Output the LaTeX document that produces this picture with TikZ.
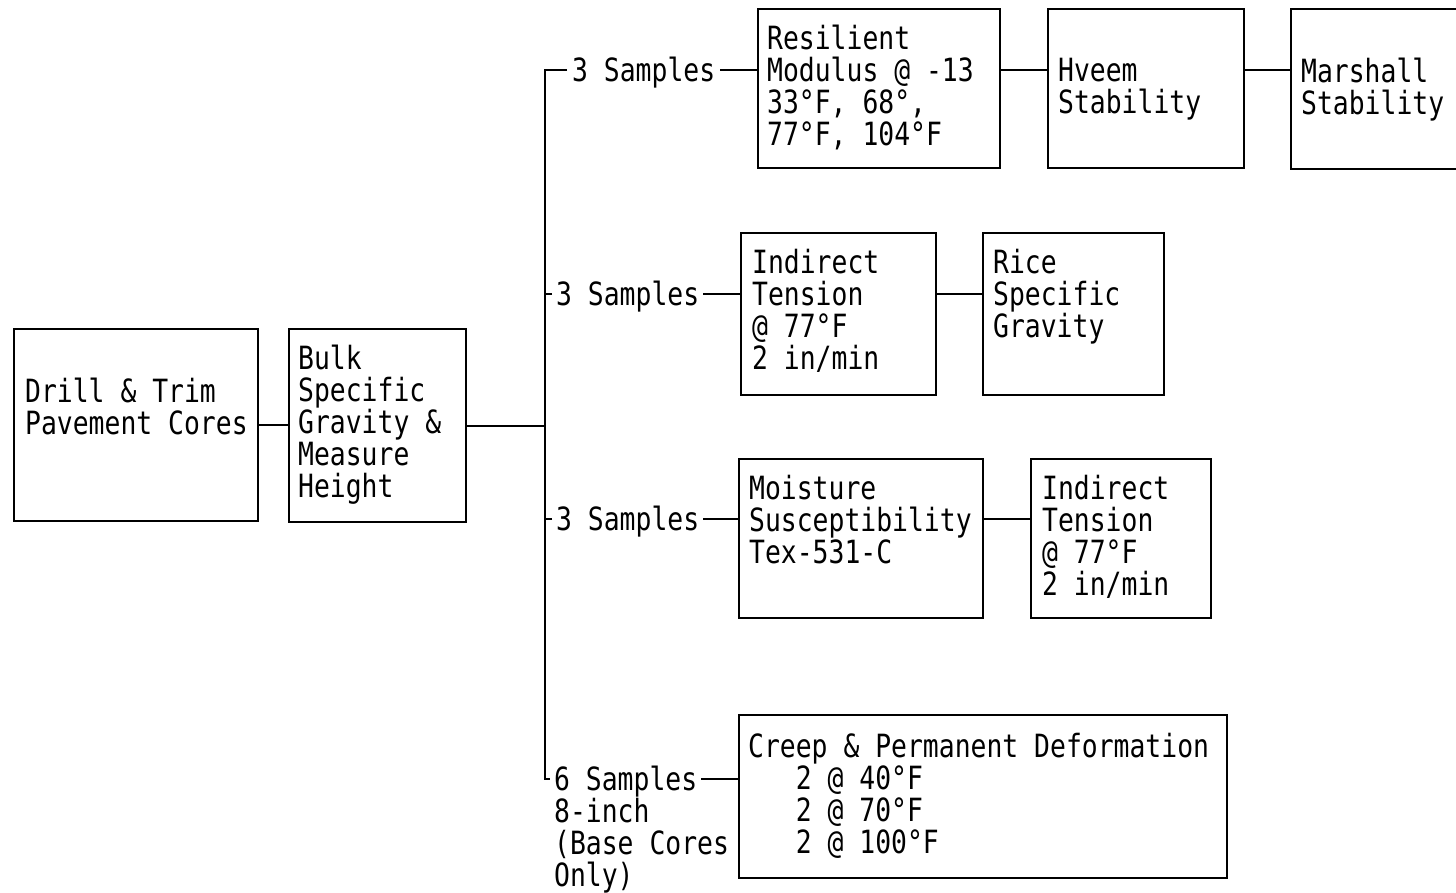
\documentclass[tikz,border=0pt]{standalone}
\usepackage{fontspec}
\newfontfamily\typefont{DejaVu Sans Mono}[FakeStretch=0.825]
\begin{document}
\begin{tikzpicture}[x=1pt, y=-1pt, line width=2.3pt,
  box/.style={draw, inner sep=0pt, anchor=north west},
  txt/.style={font={\typefont\fontsize{32}{32}\selectfont}, align=left, inner sep=0pt, anchor=north west},
  smp/.style={font={\typefont\fontsize{32}{32}\selectfont}, inner sep=0pt, text height=23pt, text depth=0pt, anchor=west}]
\useasboundingbox (0,0) rectangle (1456,892);
\fill[white] (0,0) rectangle (1456,892);

\node[box, minimum width=244, minimum height=192] (drill) at (13,328) {};
\node[box, minimum width=177, minimum height=193] (bulk) at (288,328) {};
\node[box, minimum width=242, minimum height=159] (res) at (757,8) {};
\node[box, minimum width=196, minimum height=159] (hveem) at (1047,8) {};
\node[box, minimum width=172, minimum height=160] (marsh) at (1290,8) {};
\node[box, minimum width=195, minimum height=162] (itA) at (740,232) {};
\node[box, minimum width=181, minimum height=162] (rice) at (982,232) {};
\node[box, minimum width=244, minimum height=159] (moist) at (738,458) {};
\node[box, minimum width=180, minimum height=159] (itB) at (1030,458) {};
\node[box, minimum width=488, minimum height=163] (creep) at (738,714) {};

\node[txt] (drillT) at (24,377) {Drill \& Trim\\Pavement Cores};
\node[txt] (bulkT) at (297,344) {Bulk\\Specific\\Gravity \&\\Measure\\Height};
\node[txt] (resT) at (766,24) {Resilient\\Modulus @ -13\\33°F, 68°,\\77°F, 104°F};
\node[txt] (hveemT) at (1057,57) {Hveem\\Stability};
\node[txt] (marshT) at (1300,57) {Marshall\\Stability};
\node[txt] (itAT) at (751,248) {Indirect\\Tension\\@ 77°F\\2 in/min};
\node[txt] (riceT) at (992,248) {Rice\\Specific\\Gravity};
\node[txt] (moistT) at (748,474) {Moisture\\Susceptibility\\Tex-531-C};
\node[txt] (itBT) at (1041,474) {Indirect\\Tension\\@ 77°F\\2 in/min};
\node[txt] (creepT) at (747,732) {Creep \& Permanent Deformation\\\phantom{xxx}2 @ 40°F\\\phantom{xxx}2 @ 70°F\\\phantom{xxx}2 @ 100°F};

\node[smp, inner xsep=4pt] (s1) at (567,70) {3 Samples};
\node[smp, inner xsep=3pt] (s2) at (552,294) {3 Samples};
\node[smp, inner xsep=3pt] (s3) at (552,519) {3 Samples};
\node[smp, inner xsep=3pt] (s4) at (550,779) {6 Samples};
\node[txt] (s4note) at (553,797) {8-inch\\(Base Cores\\Only)};

\coordinate (trunkBot) at (545,779);
\draw (drill.east) -- (drill.east -| bulk.west);
\draw (bulk.east) -- (bulk.east -| trunkBot);
\draw (s1.west) -- (s1.west -| trunkBot) -- (trunkBot) -- (s4.west);
\draw (s2.west) -- (s2.west -| trunkBot);
\draw (s3.west) -- (s3.west -| trunkBot);

\draw (s1.east) -- (s1.east -| res.west);
\draw (s1.east -| res.east) -- (s1.east -| hveem.west);
\draw (s1.east -| hveem.east) -- (s1.east -| marsh.west);
\draw (s2.east) -- (s2.east -| itA.west);
\draw (s2.east -| itA.east) -- (s2.east -| rice.west);
\draw (s3.east) -- (s3.east -| moist.west);
\draw (s3.east -| moist.east) -- (s3.east -| itB.west);
\draw (s4.east) -- (s4.east -| creep.west);
\end{tikzpicture}
\end{document}
